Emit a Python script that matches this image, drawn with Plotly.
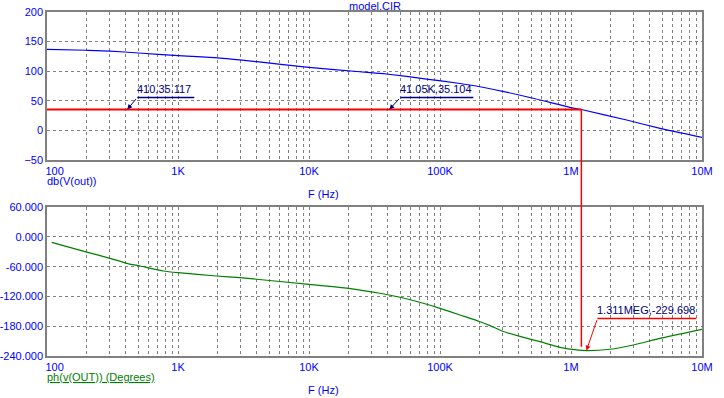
import math
import plotly.graph_objects as go

# ---------------- data ----------------
mag_freq = [100, 200, 302, 500, 1e3, 2e3, 4e3, 1e4, 2.45e4, 3.9e4, 7.9e4,
            1.42e5, 2.02e5, 4.59e5, 1.04e6, 1.2e6, 2.66e6, 4.79e6, 1e7]
mag_db = [136.6, 135.0, 133.7, 130.4, 125.8, 122.2, 115.7, 106.0, 98.8, 95.0, 86.5,
          79.0, 73.5, 56.7, 37.5, 35.1, 17.4, 3.3, -11.8]

ph_freq = [108.6, 195, 303, 405, 513, 773, 1e3, 1.97e3, 2.97e3, 1e4, 2e4, 3.48e4, 4.95e4, 7e4,
           1e5, 1.42e5, 2.02e5, 2.41e5, 3.04e5, 4.08e5, 5.8e5, 8.25e5, 1.1e6, 1.311e6, 1.99e6,
           2.99e6, 4.79e6, 1e7]
ph_deg = [-10.8, -29.7, -43.1, -53.2, -58.7, -68.8, -72.2, -78.9, -82.3, -95.7, -103.8, -113.8,
          -121.9, -132.0, -144.2, -157.7, -171.3, -179.3, -191.0, -201.0, -211.7, -223.0, -228.3,
          -229.698, -227.0, -218.4, -204.9, -186.6]

x_tickvals = [1e2, 1e3, 1e4, 1e5, 1e6, 1e7]
x_ticktext = ["\u00a0\u00a0\u00a0\u00a0\u00a0100", "1K", "10K", "100K", "1M", "10M"]
x_minor = [m * 10 ** d for d in range(2, 7) for m in range(2, 10)]

top_ticks = [-50, 0, 50, 100, 150, 200]
bot_ticks = [-240, -180, -120, -60, 0, 60]
bot_ticktext = ["-240.000", "-180.000", "-120.000", "-60.000", "0.000", "60.000"]

cursor_freq = 1.2e6
cursor_level = 35.104
cursor_phase_end = -222.0

mark_a = (410, 35.117, "410,35.117")
mark_b = (41050, 35.104, "41.05K,35.104")
mark_c = (1.311e6, -229.698, "1.311MEG,-229.698")

# ---------------- layout constants ----------------
W, H = 724, 398
xdom = [47 / W, 702 / W]
top_dom = [1 - 160 / H, 1 - 11.7 / H]
bot_dom = [1 - 355.7 / H, 1 - 207.3 / H]
top_rng = [-50, 200]
bot_rng = [-240, 60]

BLUE = "#0000ff"
NAVY = "#000080"
RED = "#ff0000"
GREEN = "#008000"
GRID = "#808080"
FONT = "Arial"
DASH = "3px,3px"


def to_paper(v, rng, dom):
    return dom[0] + (v - rng[0]) / (rng[1] - rng[0]) * (dom[1] - dom[0])


fig = go.Figure()

fig.add_trace(go.Scatter(x=mag_freq, y=mag_db, mode="lines",
                         line=dict(color=BLUE, width=1.2, shape="spline", smoothing=0.5),
                         xaxis="x", yaxis="y", hoverinfo="skip"))
fig.add_trace(go.Scatter(x=[mag_freq[0], cursor_freq], y=[cursor_level, cursor_level],
                         mode="lines", line=dict(color=RED, width=2), xaxis="x", yaxis="y",
                         hoverinfo="skip"))
fig.add_trace(go.Scatter(x=ph_freq, y=ph_deg, mode="lines",
                         line=dict(color=GREEN, width=1.2, shape="spline", smoothing=0.5),
                         xaxis="x2", yaxis="y2", hoverinfo="skip"))

xcommon = dict(type="log", range=[2, 7], tickmode="array", tickvals=x_tickvals,
               ticktext=x_ticktext, showgrid=True, gridcolor=GRID, griddash=DASH,
               gridwidth=1, showline=True, linecolor=GRID, linewidth=1.5, mirror=True,
               ticks="", zeroline=False, automargin=False,
               tickfont=dict(family=FONT, size=11, color=BLUE),
               minor=dict(tickmode="array", tickvals=x_minor, showgrid=True,
                          gridcolor=GRID, griddash=DASH, gridwidth=1, ticks=""))

ycommon = dict(showgrid=True, gridcolor=GRID, griddash=DASH, gridwidth=1,
               showline=True, linecolor=GRID, linewidth=1.5, mirror=True, ticks="",
               zeroline=False, automargin=False,
               tickfont=dict(family=FONT, size=11, color=BLUE))

fig.update_layout(
    width=W, height=H, autosize=False,
    margin=dict(l=0, r=0, t=0, b=0),
    paper_bgcolor="white", plot_bgcolor="white",
    showlegend=False,
    xaxis=dict(domain=xdom, anchor="y", **xcommon),
    xaxis2=dict(domain=xdom, anchor="y2", **xcommon),
    yaxis=dict(domain=top_dom, anchor="x", range=top_rng, tickmode="array",
               tickvals=top_ticks, **ycommon),
    yaxis2=dict(domain=bot_dom, anchor="x2", range=bot_rng, tickmode="array",
                tickvals=bot_ticks, ticktext=bot_ticktext, **ycommon),
)

# cursor vertical line through both plots
fig.add_shape(type="line", xref="x", yref="paper", x0=cursor_freq, x1=cursor_freq,
              y0=to_paper(cursor_level, top_rng, top_dom),
              y1=to_paper(cursor_phase_end, bot_rng, bot_dom),
              line=dict(color=RED, width=1.5))

# text labels
def ptext(x, y, text, color=BLUE, xanchor="left", size=11):
    fig.add_annotation(x=x / W, y=1 - y / H, xref="paper", yref="paper", text=text,
                       showarrow=False, xanchor=xanchor, yanchor="middle",
                       font=dict(family=FONT, size=size, color=color))

ptext(375, 6, "model.CIR", xanchor="center")
ptext(45, 181, "db(V(out))")
ptext(306, 194, "F (Hz)")
ptext(45, 377, "<span style='text-decoration:underline'>ph(v(OUT)) (Degrees)</span>", color=GREEN)
ptext(306, 390, "F (Hz)")


def marker(mark, xa, ya, ax, ay, ulen, color, textcolor):
    f, v, label = mark
    # arrow
    fig.add_annotation(x=math.log10(f), y=v, xref=xa, yref=ya, ax=ax, ay=ay, text="",
                       showarrow=True, arrowhead=2, arrowsize=1, arrowwidth=1,
                       arrowcolor=color, standoff=0)
    # underline
    fig.add_shape(type="line", xref=xa, yref=ya, xsizemode="pixel", ysizemode="pixel",
                  xanchor=f, yanchor=v, x0=ax, x1=ax + ulen, y0=-ay, y1=-ay,
                  line=dict(color=color, width=1.5))
    # label
    fig.add_annotation(x=math.log10(f), y=v, xref=xa, yref=ya, text=label, showarrow=False,
                       xanchor="left", yanchor="bottom", xshift=ax - 2, yshift=-ay + 1,
                       font=dict(family=FONT, size=11, color=textcolor))


marker(mark_a, "x", "y", 10, -12, 57, NAVY, NAVY)
marker(mark_b, "x", "y", 11, -12, 73, NAVY, NAVY)
marker(mark_c, "x2", "y2", 11, -32, 99, RED, NAVY)

fig.write_html("out.html", config={"displayModeBar": False},
               post_script="document.body.style.margin='0px';document.body.style.overflow='hidden';")
